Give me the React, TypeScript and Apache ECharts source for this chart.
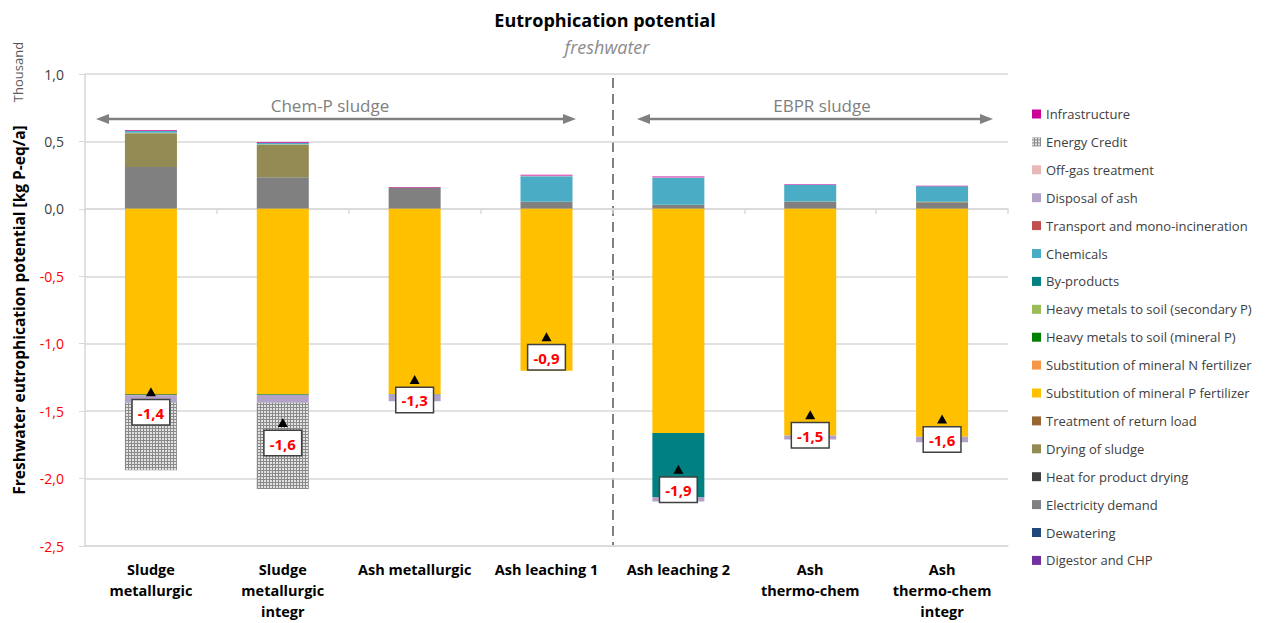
import React, { useEffect, useRef } from 'react';
import * as echarts from 'echarts';

const categories = [
  'Sludge\nmetallurgic',
  'Sludge\nmetallurgic\nintegr',
  'Ash metallurgic',
  'Ash leaching 1',
  'Ash leaching 2',
  'Ash\nthermo-chem',
  'Ash\nthermo-chem\nintegr',
];

// values in thousand kg P-eq/a
const digestorCHP = [0, 0, 0, 0, 0, 0, 0];
const dewatering = [0, 0, 0, 0, 0, 0, 0];
const electricityDemand = [0.31, 0.235, 0.158, 0.052, 0.03, 0.05, 0.045];
const heatProductDrying = [0, 0, 0, 0, 0, 0, 0];
const dryingSludge = [0.25, 0.24, 0, 0, 0, 0.004, 0.008];
const returnLoad = [0, 0, 0, 0, 0, 0, 0];
const substP = [-1.373, -1.373, -1.373, -1.2, -1.662, -1.68, -1.69];
const substN = [0, 0, 0, 0, 0, 0, 0];
const hmMineralP = [-0.005, -0.005, -0.004, 0, 0, 0, 0];
const hmSecondaryP = [0.005, 0.005, 0, 0, 0, 0, 0];
const byProducts = [0, 0, 0, 0, -0.474, 0, 0];
const chemicals = [0.012, 0.008, 0, 0.19, 0.2, 0.125, 0.115];
const transport = [-0.005, 0, 0, 0, 0, 0, 0];
const disposalAsh = [-0.055, -0.06, -0.05, 0, -0.034, -0.03, -0.04];
const offGas = [0, 0, 0, 0.005, 0.005, 0, 0];
const energyCredit = [-0.5, -0.64, 0, 0, 0, 0, 0];
const infrastructure = [0.005, 0.005, 0.004, 0.005, 0.005, 0.004, 0.004];

const yTicks = { min: -2.5, max: 1.0, interval: 0.5 };

const stackDefs = [
  { name: 'Digestor and CHP', color: '#7030A0', data: digestorCHP },
  { name: 'Dewatering', color: '#1F497D', data: dewatering },
  { name: 'Electricity demand', color: '#808080', data: electricityDemand },
  { name: 'Heat for product drying', color: '#404040', data: heatProductDrying },
  { name: 'Drying of sludge', color: '#948A54', data: dryingSludge },
  { name: 'Treatment of return load', color: '#996633', data: returnLoad },
  { name: 'Substitution of mineral P fertilizer', color: '#FFC000', data: substP },
  { name: 'Substitution of mineral N fertilizer', color: '#F79646', data: substN },
  { name: 'Heavy metals to soil (mineral P)', color: '#008000', data: hmMineralP },
  { name: 'Heavy metals to soil (secondary P)', color: '#9BBB59', data: hmSecondaryP },
  { name: 'By-products', color: '#008080', data: byProducts },
  { name: 'Chemicals', color: '#4BACC6', data: chemicals },
  { name: 'Transport and mono-incineration', color: '#C0504D', data: transport },
  { name: 'Disposal of ash', color: '#B3A2C7', data: disposalAsh },
  { name: 'Off-gas treatment', color: '#E6B9B8', data: offGas },
  { name: 'Energy Credit', color: '#8a8a8a', data: energyCredit },
  { name: 'Infrastructure', color: '#CC0099', data: infrastructure },
];

const netValues = categories.map((_, i) =>
  stackDefs.reduce((s, d) => s + d.data[i], 0)
);
const netLabels = netValues.map((v) =>
  (Math.round(v * 10) / 10).toFixed(1).replace('.', ',')
);

const FONT = '"Open Sans", "Noto Sans", sans-serif';

export default function App() {
  const ref = useRef<HTMLDivElement>(null);
  useEffect(() => {
    document.body.style.margin = '0';
    const chart = echarts.init(ref.current!, null, { renderer: 'svg' });

    const barSeries = stackDefs.map((d) => ({
      name: d.name,
      type: 'bar',
      stack: 'total',
      barWidth: 52,
      xAxisIndex: 0,
      data: d.data,
      itemStyle:
        d.name === 'Energy Credit'
          ? {
              color: d.color,
              decal: {
                symbol: 'rect',
                symbolSize: 1,
                dashArrayX: [2, 1],
                dashArrayY: [2, 1],
                color: '#e2e2e2',
                rotation: 0,
              },
            }
          : { color: d.color },
    }));

    const grey = '#808080';
    const option: any = {
      animation: false,
      textStyle: { fontFamily: FONT },
      grid: { left: 85, right: 267, top: 74, bottom: 77 },
      legend: {
        orient: 'vertical',
        left: 1032,
        top: 107,
        padding: 0,
        icon: 'rect',
        itemWidth: 9,
        itemHeight: 9,
        itemGap: 13.9,
        selectedMode: false,
        textStyle: { fontSize: 13, color: '#404040', lineHeight: 14, fontFamily: FONT },
        data: stackDefs.map((d) => d.name).reverse(),
      },
      xAxis: [
        {
          type: 'category',
          data: categories,
          position: 'bottom',
          axisLine: { onZero: false, lineStyle: { color: '#d9d9d9', width: 1.5 } },
          axisTick: { show: false },
          axisLabel: {
            interval: 0,
            margin: 13,
            color: '#000',
            fontWeight: 'bold',
            fontSize: 14.5,
            lineHeight: 21,
            verticalAlign: 'top',
            fontFamily: FONT,
          },
        },
        {
          type: 'category',
          data: categories,
          position: 'top',
          axisLine: { onZero: true, lineStyle: { color: '#d9d9d9', width: 1.5 } },
          axisTick: { show: true, inside: true, length: 5, lineStyle: { color: '#d9d9d9', width: 1.5 } },
          axisLabel: { show: false },
        },
      ],
      yAxis: {
        type: 'value',
        min: yTicks.min,
        max: yTicks.max,
        interval: yTicks.interval,
        name: 'Freshwater eutrophication potential [kg P-eq/a]',
        nameLocation: 'middle',
        nameRotate: 90,
        nameGap: 58,
        nameTextStyle: { fontSize: 15.5, fontWeight: 'bold', color: '#000', fontFamily: FONT },
        axisLine: { show: true, lineStyle: { color: '#d9d9d9', width: 1.5 } },
        axisTick: { show: true, length: 6, lineStyle: { color: '#d9d9d9' } },
        splitLine: { lineStyle: { color: '#d9d9d9', width: 1.5 } },
        axisLabel: {
          margin: 21,
          fontSize: 14,
          fontFamily: FONT,
          formatter: (v: number) => v.toFixed(1).replace('.', ','),
          color: (v: any) => (Number(v) < 0 ? '#FF0000' : '#404040'),
        },
      },
      series: [
        ...barSeries,
        {
          name: 'Net',
          type: 'scatter',
          xAxisIndex: 0,
          data: netValues,
          symbol: 'triangle',
          symbolSize: [10, 9],
          z: 10,
          itemStyle: { color: '#000', opacity: 1 },
          label: {
            show: true,
            position: 'bottom',
            distance: 4,
            formatter: (p: any) => netLabels[p.dataIndex],
            backgroundColor: '#fff',
            borderColor: '#404040',
            borderWidth: 1.5,
            padding: [5, 5, 4, 5],
            color: '#FF0000',
            fontWeight: 'bold',
            fontSize: 15,
            fontFamily: FONT,
            opacity: 1,
          },
        },
      ],
      graphic: [
        {
          type: 'text',
          x: 605,
          y: 20,
          style: {
            text: 'Eutrophication potential',
            font: `bold 18px ${FONT}`,
            fill: '#000',
            align: 'center',
            verticalAlign: 'middle',
          },
        },
        {
          type: 'text',
          x: 607,
          y: 47,
          style: {
            text: 'freshwater',
            font: `italic 18px ${FONT}`,
            fill: '#8c8c8c',
            align: 'center',
            verticalAlign: 'middle',
          },
        },
        {
          type: 'text',
          x: 18,
          y: 72,
          rotation: Math.PI / 2,
          style: {
            text: 'Thousand',
            font: `13px ${FONT}`,
            fill: '#595959',
            align: 'center',
            verticalAlign: 'middle',
          },
        },
        {
          type: 'line',
          shape: { x1: 613, y1: 78, x2: 613, y2: 546 },
          style: { stroke: grey, lineWidth: 2, lineDash: [10, 6] },
        },
        // Chem-P arrow
        { type: 'line', shape: { x1: 104, y1: 119, x2: 568, y2: 119 }, style: { stroke: grey, lineWidth: 2.5 } },
        { type: 'polygon', shape: { points: [[96, 119], [109, 114], [109, 124]] }, style: { fill: grey } },
        { type: 'polygon', shape: { points: [[576, 119], [563, 114], [563, 124]] }, style: { fill: grey } },
        {
          type: 'text',
          x: 330,
          y: 105,
          style: { text: 'Chem-P sludge', font: `17px ${FONT}`, fill: grey, align: 'center', verticalAlign: 'middle' },
        },
        // EBPR arrow
        { type: 'line', shape: { x1: 645, y1: 119, x2: 985, y2: 119 }, style: { stroke: grey, lineWidth: 2.5 } },
        { type: 'polygon', shape: { points: [[637, 119], [650, 114], [650, 124]] }, style: { fill: grey } },
        { type: 'polygon', shape: { points: [[993, 119], [980, 114], [980, 124]] }, style: { fill: grey } },
        {
          type: 'text',
          x: 822,
          y: 105,
          style: { text: 'EBPR sludge', font: `17px ${FONT}`, fill: grey, align: 'center', verticalAlign: 'middle' },
        },
      ],
    };

    chart.setOption(option);
    return () => chart.dispose();
  }, []);
  return <div ref={ref} style={{ width: 1275, height: 623 }} />;
}
